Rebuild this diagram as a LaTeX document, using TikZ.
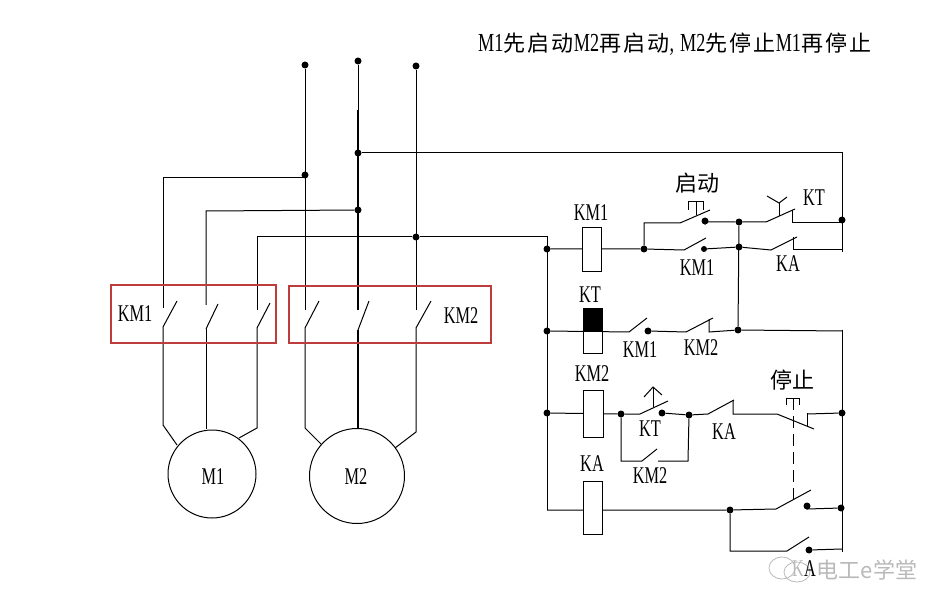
\documentclass[tikz,border=0pt]{standalone}
\usepackage{fontspec}
\setmainfont{Liberation Serif}
\newfontfamily\lat[FakeStretch=0.68]{Liberation Serif}
\newfontfamily\titlelat[FakeStretch=0.7]{Liberation Serif}
\newfontfamily\cjk{Noto Sans CJK SC}
\newfontfamily\cjktitle[LetterSpace=10]{Noto Sans CJK SC}
\tikzset{
 dot/.style={circle,fill=black,inner sep=0pt,minimum size=7pt},
 wire/.style={draw=black,line width=1pt},
 thick wire/.style={draw=black,line width=2.6pt},
 coil/.style={draw=black,fill=white,line width=1pt,inner sep=0pt},
 redbox/.style={draw=boxred,line width=1.2pt},
 lab/.style={inner sep=0pt,font=\lat\fontsize{24}{24}\selectfont},
 cn/.style={inner sep=0pt,font=\cjk\fontsize{22}{22}\selectfont},
 motor/.style={circle,draw=black,line width=1pt,inner sep=0pt,fill=white},
 wm/.style={draw=wmgray,line width=.8pt},
}
\definecolor{boxred}{RGB}{190,60,60}
\definecolor{wmgray}{RGB}{185,185,185}
\newcommand{\tc}[1]{{\cjktitle\fontsize{22}{22}\selectfont #1}}
\begin{document}
\begin{tikzpicture}[x=1pt,y=-1pt]
\useasboundingbox (0,0) rectangle (948,612);
% junctions
\node[dot] (t1) at (305,65) {};
\node[dot] (t2) at (358,61) {};
\node[dot] (t3) at (416,66) {};
\node[dot] (j1) at (305,175) {};
\node[dot] (j2a) at (358,153) {};
\node[dot] (j2) at (358,210) {};
\node[dot] (j3) at (416,237) {};
\node[dot] (bl1) at (547,249) {};
\node[dot] (bl2) at (547,331) {};
\node[dot] (bl3) at (547,413) {};
\node[dot] (a1) at (644,249) {};
\node[dot] (c1) at (705,221) {};
\node[dot,minimum size=6pt] (c2) at (704,249) {};
\node[dot] (v1) at (739,222) {};
\node[dot] (v2) at (739,247) {};
\node[dot] (v3) at (738,330) {};
\node[dot] (br1) at (842,220) {};
\node[dot] (c3) at (648,331) {};
\node[dot] (b1) at (621,414) {};
\node[dot] (c4) at (662,413) {};
\node[dot] (b2) at (689,415) {};
\node[dot] (br3) at (842,413) {};
\node[dot] (d1) at (730,510) {};
\node[dot] (c5) at (807,506) {};
\node[dot] (br4) at (841,508) {};
\node[dot] (c6) at (809,550) {};
% coordinates
\coordinate (w1) at (163,178);
\coordinate (w2) at (206,211);
\coordinate (w3) at (257,237);
\coordinate (bt) at (547,237);
\coordinate (bb) at (547,510);
\coordinate (rt) at (842,153);
% power wiring
\draw[wire] (t1) -- (305,310);
\draw[wire] (305,328) -- (305,428) -- (322,445);
\draw[wire] (t2) -- (358,110);
\draw[thick wire] (358,110) -- (358,310);
\draw[thick wire] (358,330) -- (358,432);
\draw[wire] (t3) -- (416,310);
\draw[wire] (416,328) -- (416,432) -- (395,448);
\draw[wire] (j1) -- (305,178) -- (w1) -- (163,308);
\draw[wire] (163,327) -- (163,425) -- (177,445);
\draw[wire] (j2) -- (w2) -- (206,305);
\draw[wire] (206,329) -- (206,429);
\draw[wire] (j3) -- (w3) -- (257,310);
\draw[wire] (257,328) -- (257,428) -- (239,438);
\draw[wire] (j3) -- (bt) -- (bb);
\draw[wire] (j2a) -- (rt) -- (842,252);
\draw[wire] (842,330) -- (842,552);
% power contacts
\draw[wire] (163,327) -- (177,301);
\draw[wire] (206,329) -- (218,304);
\draw[wire] (257,328) -- (270,303);
\draw[wire] (305,328) -- (319,301);
\draw[wire] (358,330) -- (369,301);
\draw[wire] (416,328) -- (431,301);
% red boxes
\node[redbox,minimum width=165pt,minimum height=58pt,inner sep=0pt] (box1) at (193.5,314) {};
\node[redbox,minimum width=202pt,minimum height=57pt,inner sep=0pt] (box2) at (390,314.5) {};
\node[lab] (lk1) at (135,314) {KM1};
\node[lab] (lk2) at (461,316) {KM2};
% motors
\node[motor,minimum size=88pt] (m1) at (212,474) {};
\node[motor,minimum size=95pt] (m2) at (357,476) {};
\node[lab] (lm1) at (213,477) {M1};
\node[lab] (lm2) at (356,477) {M2};
% row 1 upper
\draw[wire] (a1) -- (644,223) -- (680,223) -- (710,210);
\draw[wire] (c1) -- (705,222) -- (v1) -- (766,222) -- (795,209);
\draw[wire] (792,210) -- (792,223) -- (842,223);
\draw[wire] (688,210) -- (688,202) -- (703,202) -- (703,210);
\draw[wire] (696,202) -- (696,215);
\draw[wire] (767,196) -- (779,203) -- (787,197);
\draw[wire] (779,203) -- (779,216);
% row 1 lower
\draw[wire] (bl1) -- (a1) -- (684,250) -- (706,238);
\draw[wire] (c2) -- (v2) -- (771,250) -- (797,237);
\draw[wire] (793,237) -- (793,250) -- (842,250);
\draw[wire] (v1) -- (v3);
% row 2
\draw[wire] (bl2) -- (629,332) -- (647,318);
\draw[wire] (c3) -- (686,332) -- (713,318);
\draw[wire] (709,319) -- (709,332) -- (v3) -- (842,331);
% row 3
\draw[wire] (bl3) -- (b1) -- (640,414) -- (668,401);
\draw[wire] (c4) -- (b2) -- (708,414) -- (734,400);
\draw[wire] (733,400) -- (733,414) -- (777,414) -- (814,429);
\draw[wire] (807,413) -- (807,427);
\draw[wire] (807,414) -- (br3);
\draw[wire] (644,397) .. controls (649,392) .. (653,387) .. controls (657,391) .. (662,395);
\draw[wire] (653,387) -- (653,407);
\draw[wire] (b1) -- (621,461) -- (642,461) -- (657,449);
\draw[wire] (658,461) -- (688,461) -- (b2);
\draw[wire] (786,405) -- (786,398) -- (799,398) -- (799,405);
\draw[wire,dash pattern=on 12pt off 6pt] (793,398) -- (793,500);
% row 4
\draw[wire] (bb) -- (d1) -- (776,509) -- (811,490);
\draw[wire] (c5) -- (807,509) -- (br4);
\draw[wire] (d1) -- (730,551) -- (787,551) -- (809,537);
\draw[wire] (c6) -- (842,549);
% coils
\node[coil,minimum width=19pt,minimum height=44pt] (cm1) at (591.5,250) {};
\node[coil,minimum width=19pt,minimum height=45pt] (ckt) at (592.5,331.5) {};
\fill (583,309) rectangle (602,332);
\node[coil,minimum width=20pt,minimum height=47pt] (cm2) at (593,413.5) {};
\node[coil,minimum width=19pt,minimum height=53pt] (cka) at (592.5,507.5) {};
% labels
\node[lab] (l1) at (591,213) {KM1};
\node[lab] (l2) at (697,268) {KM1};
\node[lab] (l3) at (788,264) {KA};
\node[lab] (l4) at (814,198) {KT};
\node[lab] (l5) at (590,295) {KT};
\node[lab] (l6) at (640,350) {KM1};
\node[lab] (l7) at (701,348) {KM2};
\node[lab] (l8) at (592,374) {KM2};
\node[lab] (l9) at (650,429) {KT};
\node[lab] (l10) at (724,432) {KA};
\node[lab] (l11) at (650,476) {KM2};
\node[lab] (l12) at (592,464) {KA};
\node[cn] (s1) at (697,183) {启动};
\node[cn] (s2) at (792,380) {停止};
% watermark
\draw[wm] (782,568) ellipse (13pt and 11pt);
\draw[wm] (797,572) ellipse (13pt and 10pt);
\node[lab] (l13) at (804,569) {{\color{wmgray}K}A};
\node[inner sep=0pt,text=wmgray,font=\cjk\fontsize{22}{22}\selectfont] (w) at (867,570) {电工e学堂};
% title
\node[inner sep=0pt,anchor=west,font=\titlelat\fontsize{26}{26}\selectfont] (title) at (478,44)
 {M1\tc{先启动}M2\tc{再启动},\hspace{6pt}M2\tc{先停止}M1\tc{再停止}};
\end{tikzpicture}
\end{document}
